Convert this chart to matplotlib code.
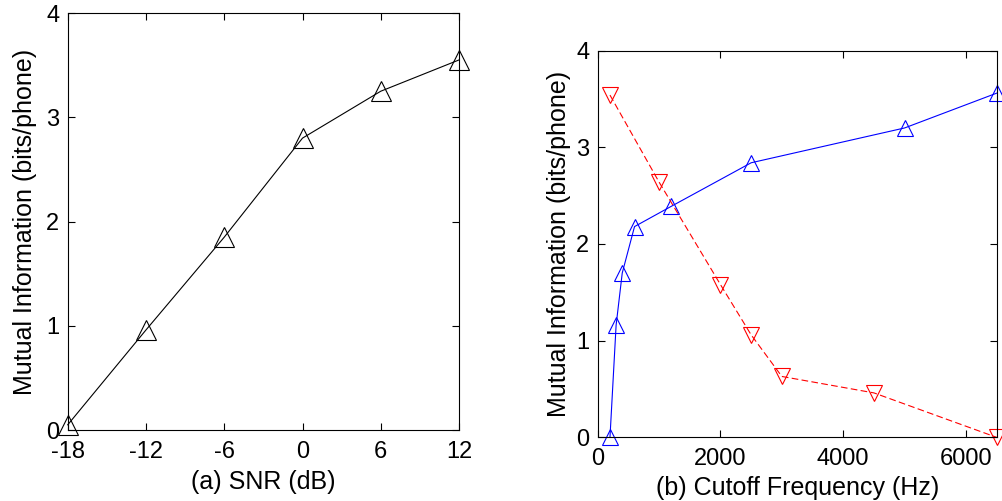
import numpy as np
import matplotlib.pyplot as plt

plt.rcParams['font.family'] = ['Liberation Sans', 'DejaVu Sans']
plt.rcParams['axes.unicode_minus'] = False

# (a) SNR
snr = [-18, -12, -6, 0, 6, 12]
mi_snr = [0.05, 0.96, 1.85, 2.80, 3.25, 3.55]

# (b) cutoff frequency
lp_freq = [200, 300, 400, 600, 1200, 2500, 5000, 6500]
mi_lp = [0.0, 1.16, 1.70, 2.18, 2.39, 2.84, 3.20, 3.56]
hp_freq = [200, 1000, 2000, 2500, 3000, 4500, 6500]
mi_hp = [3.54, 2.64, 1.58, 1.06, 0.63, 0.46, 0.0]

fig = plt.figure(figsize=(10.02, 5.01), dpi=100)
ax1 = fig.add_axes([0.0676, 0.1417, 0.3905, 0.8323])
ax2 = fig.add_axes([0.5965, 0.127, 0.3982, 0.772])

ax1.plot(snr, mi_snr, '-', color='black', lw=0.8, marker='^', ms=14,
         mfc='none', mec='black', mew=0.8, clip_on=False)
ax1.set_xlim(-18, 12)
ax1.set_ylim(0, 4)
ax1.set_xticks([-18, -12, -6, 0, 6, 12])
ax1.set_yticks([0, 1, 2, 3, 4])
ax1.set_xlabel('(a) SNR (dB)', fontsize=18, labelpad=5)
ax1.set_ylabel('Mutual Information (bits/phone)', fontsize=18, labelpad=7)

ax2.plot(lp_freq, mi_lp, '-', color='blue', lw=0.8, marker='^', ms=12,
         mfc='none', mec='blue', mew=0.8, clip_on=False)
ax2.plot(hp_freq, mi_hp, '--', color='red', lw=0.8, marker='v', ms=12,
         mfc='none', mec='red', mew=0.8, dashes=(6, 3), clip_on=False)
ax2.set_xlim(0, 6500)
ax2.set_ylim(0, 4)
ax2.set_xticks([0, 2000, 4000, 6000])
ax2.set_yticks([0, 1, 2, 3, 4])
ax2.set_xlabel('(b) Cutoff Frequency (Hz)', fontsize=18, labelpad=4)
ax2.set_ylabel('Mutual Information (bits/phone)', fontsize=18, labelpad=4)

for ax in (ax1, ax2):
    ax.tick_params(direction='in', top=True, right=True, labelsize=17, length=5)
    ax.tick_params(axis='x', pad=8)
    ax.tick_params(axis='y', pad=6)
    for s in ax.spines.values():
        s.set_linewidth(0.8)

fig.savefig('out.png', dpi=100)
